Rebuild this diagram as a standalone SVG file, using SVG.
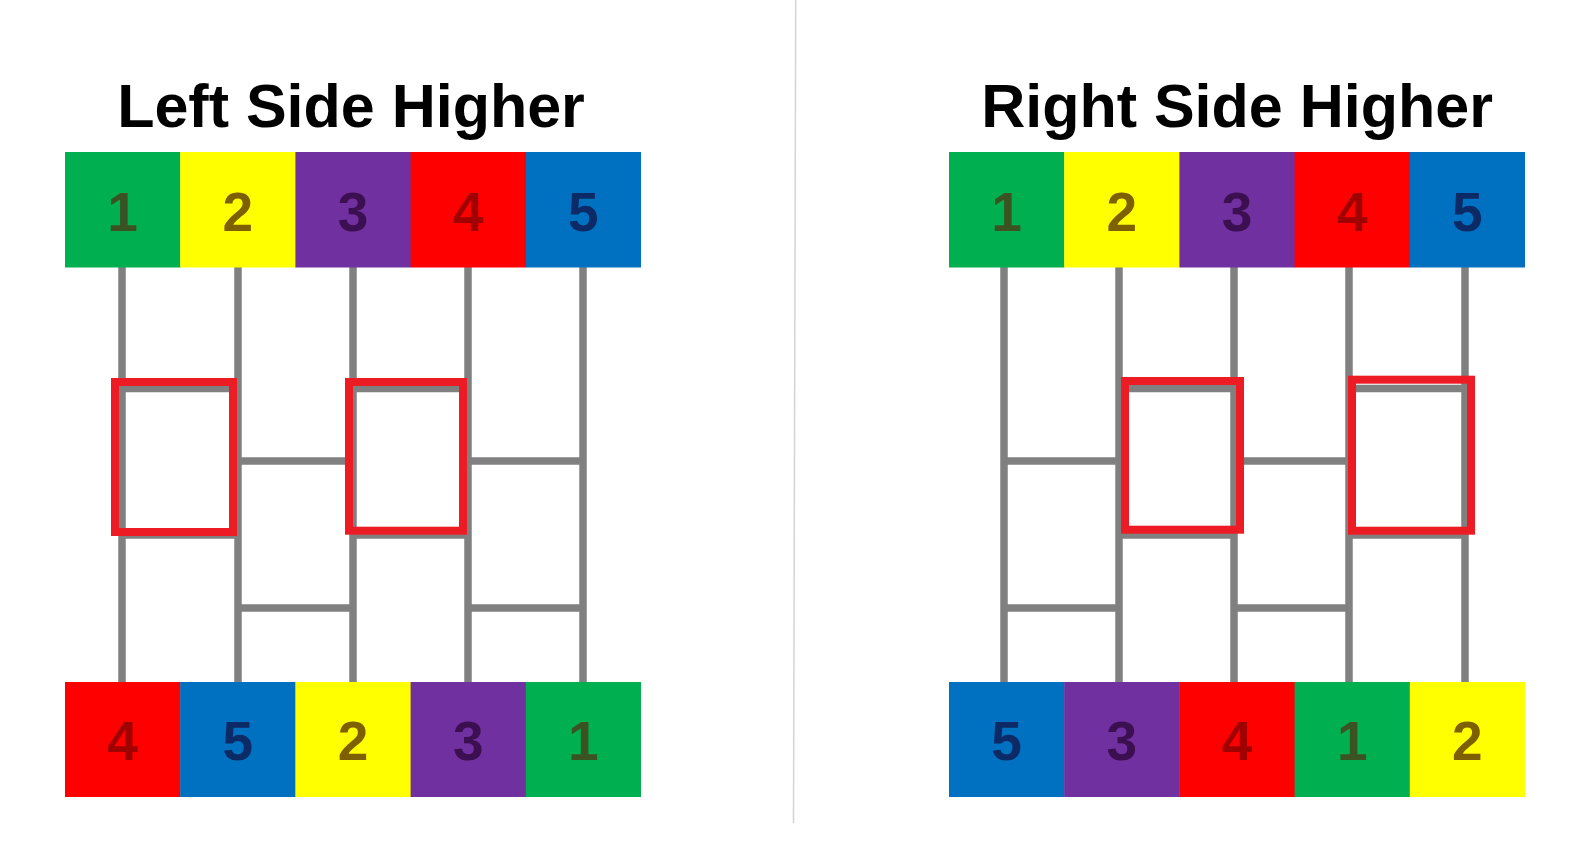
<svg xmlns="http://www.w3.org/2000/svg" width="1580" height="855" viewBox="0 0 1580 855">
<style>
.title{font-family:"Liberation Sans",Arial,sans-serif;font-weight:bold;font-size:61px;fill:#000;text-anchor:middle}
.num{font-family:"Liberation Sans",Arial,sans-serif;font-weight:bold;font-size:55px;text-anchor:middle}
.g{fill:#00B050}.y{fill:#FFFF00}.p{fill:#7030A0}.r{fill:#FF0000}.b{fill:#0070C0}
.t1{fill:#3B5323}.t2{fill:#7F6000}.t3{fill:#3B0F50}.t4{fill:#A00000}.t5{fill:#0C2A66}
.wire{stroke:#808080;stroke-width:7.5;fill:none}
.hl{fill:none;stroke:#ED1C24;stroke-width:8}
</style>
<rect width="1580" height="855" fill="#fff"/>
<line x1="795.7" y1="0" x2="793.5" y2="823" stroke="#d4d4d4" stroke-width="1.5"/>
<text class="title" x="351" y="127">Left Side Higher</text>
<text class="title" x="1237" y="127">Right Side Higher</text>

<g id="connectors">
  <line class="wire" x1="122" y1="266" x2="122" y2="683"/>
  <line class="wire" x1="238" y1="266" x2="238" y2="683"/>
  <line class="wire" x1="353" y1="266" x2="353" y2="683"/>
  <line class="wire" x1="468" y1="266" x2="468" y2="683"/>
  <line class="wire" x1="583" y1="266" x2="583" y2="683"/>
  <line class="wire" x1="122" y1="388.5" x2="238" y2="388.5"/>
  <line class="wire" x1="122" y1="535" x2="238" y2="535"/>
  <line class="wire" x1="238" y1="461" x2="353" y2="461"/>
  <line class="wire" x1="238" y1="608" x2="353" y2="608"/>
  <line class="wire" x1="353" y1="388.5" x2="468" y2="388.5"/>
  <line class="wire" x1="353" y1="535" x2="468" y2="535"/>
  <line class="wire" x1="468" y1="461" x2="583" y2="461"/>
  <line class="wire" x1="468" y1="608" x2="583" y2="608"/>
  <line class="wire" x1="1004" y1="266" x2="1004" y2="683"/>
  <line class="wire" x1="1119" y1="266" x2="1119" y2="683"/>
  <line class="wire" x1="1234" y1="266" x2="1234" y2="683"/>
  <line class="wire" x1="1349" y1="266" x2="1349" y2="683"/>
  <line class="wire" x1="1465" y1="266" x2="1465" y2="683"/>
  <line class="wire" x1="1004" y1="461" x2="1119" y2="461"/>
  <line class="wire" x1="1004" y1="608" x2="1119" y2="608"/>
  <line class="wire" x1="1119" y1="388.5" x2="1234" y2="388.5"/>
  <line class="wire" x1="1119" y1="535" x2="1234" y2="535"/>
  <line class="wire" x1="1234" y1="461" x2="1349" y2="461"/>
  <line class="wire" x1="1234" y1="608" x2="1349" y2="608"/>
  <line class="wire" x1="1349" y1="388.5" x2="1465" y2="388.5"/>
  <line class="wire" x1="1349" y1="535" x2="1465" y2="535"/>
</g>

<g id="L-top-1"><rect class="g" x="65" y="152" width="115.6" height="115.5"/><text class="num t1" x="122.6" y="230.5">1</text></g>
<g id="L-top-2"><rect class="y" x="180.2" y="152" width="115.6" height="115.5"/><text class="num t2" x="237.8" y="230.5">2</text></g>
<g id="L-top-3"><rect class="p" x="295.4" y="152" width="115.6" height="115.5"/><text class="num t3" x="353" y="230.5">3</text></g>
<g id="L-top-4"><rect class="r" x="410.6" y="152" width="115.6" height="115.5"/><text class="num t4" x="468.2" y="230.5">4</text></g>
<g id="L-top-5"><rect class="b" x="525.8" y="152" width="115.2" height="115.5"/><text class="num t5" x="583.4" y="230.5">5</text></g>
<g id="L-bot-4"><rect class="r" x="65" y="682" width="115.6" height="115"/><text class="num t4" x="122.6" y="760">4</text></g>
<g id="L-bot-5"><rect class="b" x="180.2" y="682" width="115.6" height="115"/><text class="num t5" x="237.8" y="760">5</text></g>
<g id="L-bot-2"><rect class="y" x="295.4" y="682" width="115.6" height="115"/><text class="num t2" x="353" y="760">2</text></g>
<g id="L-bot-3"><rect class="p" x="410.6" y="682" width="115.6" height="115"/><text class="num t3" x="468.2" y="760">3</text></g>
<g id="L-bot-1"><rect class="g" x="525.8" y="682" width="115.2" height="115"/><text class="num t1" x="583.4" y="760">1</text></g>
<g id="R-top-1"><rect class="g" x="949" y="152" width="115.6" height="115.5"/><text class="num t1" x="1006.6" y="230.5">1</text></g>
<g id="R-top-2"><rect class="y" x="1064.2" y="152" width="115.6" height="115.5"/><text class="num t2" x="1121.8" y="230.5">2</text></g>
<g id="R-top-3"><rect class="p" x="1179.4" y="152" width="115.6" height="115.5"/><text class="num t3" x="1237" y="230.5">3</text></g>
<g id="R-top-4"><rect class="r" x="1294.6" y="152" width="115.6" height="115.5"/><text class="num t4" x="1352.2" y="230.5">4</text></g>
<g id="R-top-5"><rect class="b" x="1409.8" y="152" width="115.2" height="115.5"/><text class="num t5" x="1467.4" y="230.5">5</text></g>
<g id="R-bot-5"><rect class="b" x="949" y="682" width="115.6" height="115"/><text class="num t5" x="1006.6" y="760">5</text></g>
<g id="R-bot-3"><rect class="p" x="1064.2" y="682" width="115.6" height="115"/><text class="num t3" x="1121.8" y="760">3</text></g>
<g id="R-bot-4"><rect class="r" x="1179.4" y="682" width="115.6" height="115"/><text class="num t4" x="1237" y="760">4</text></g>
<g id="R-bot-1"><rect class="g" x="1294.6" y="682" width="115.6" height="115"/><text class="num t1" x="1352.2" y="760">1</text></g>
<g id="R-bot-2"><rect class="y" x="1409.8" y="682" width="115.2" height="115"/><text class="num t2" x="1467.4" y="760">2</text></g>

<g id="L-hl-1"><rect class="hl" x="115" y="382" width="118" height="150"/></g>
<g id="L-hl-2"><rect class="hl" x="349" y="382" width="114" height="148.7"/></g>
<g id="R-hl-1"><rect class="hl" x="1125" y="381" width="115" height="148.7"/></g>
<g id="R-hl-2"><rect class="hl" x="1352" y="379.7" width="119" height="151"/></g>
</svg>
